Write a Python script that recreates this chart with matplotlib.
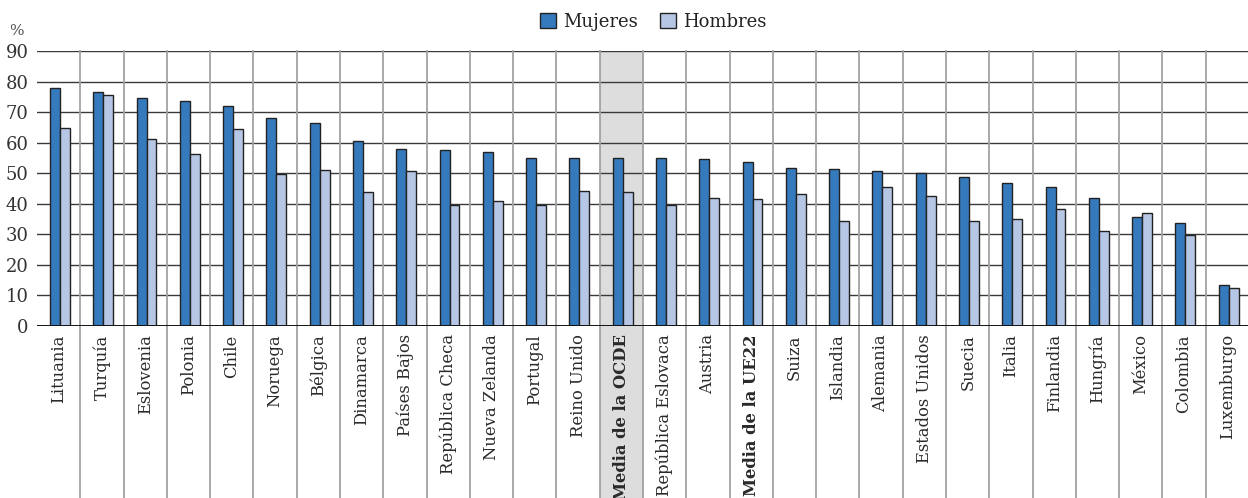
import matplotlib
matplotlib.use("Agg")
import matplotlib.pyplot as plt
import matplotlib.transforms as mtransforms
from matplotlib.patches import Rectangle, Patch
import numpy as np

plt.rcParams['font.family'] = ['DejaVu Serif']

countries = ["Lituania", "Turquía", "Eslovenia", "Polonia", "Chile", "Noruega",
             "Bélgica", "Dinamarca", "Países Bajos", "República Checa",
             "Nueva Zelanda", "Portugal", "Reino Unido", "Media de la OCDE",
             "República Eslovaca", "Austria", "Media de la UE22", "Suiza",
             "Islandia", "Alemania", "Estados Unidos", "Suecia", "Italia",
             "Finlandia", "Hungría", "México", "Colombia", "Luxemburgo"]
mujeres = [77.9, 76.6, 74.7, 73.7, 71.9, 68.1, 66.6, 60.7, 58.0, 57.5,
           56.8, 55.0, 54.9, 55.0, 55.0, 54.6, 53.6, 51.8, 51.3, 50.6,
           50.0, 48.7, 46.7, 45.4, 41.8, 35.6, 33.8, 13.3]
hombres = [64.7, 75.7, 61.2, 56.4, 64.4, 49.8, 50.9, 43.9, 50.8, 39.6,
           41.0, 39.5, 44.3, 43.7, 39.5, 42.0, 41.5, 43.3, 34.3, 45.6,
           42.7, 34.3, 34.9, 38.3, 31.1, 36.9, 29.9, 12.4]
highlight = "Media de la OCDE"
bold_labels = ["Media de la OCDE", "Media de la UE22"]

c_muj = "#357abd"
c_hom = "#b6c7e5"
edge = "#222222"

fig = plt.figure(figsize=(12.48, 4.98), dpi=100)
ax = fig.add_axes([37 / 1248, 172 / 498, 1212 / 1248, 275 / 498])

x = np.arange(len(countries))
w = 0.23
ax.bar(x - w / 2 + 0.03, mujeres, w, color=c_muj, edgecolor=edge, linewidth=1.0, zorder=3, label="Mujeres")
ax.bar(x + w / 2 + 0.03, hombres, w, color=c_hom, edgecolor=edge, linewidth=1.0, zorder=3, label="Hombres")

ax.set_xlim(-0.5, len(countries) - 0.5)
ax.set_ylim(0, 90)
ax.set_yticks(range(0, 91, 10))

# horizontal grid
for v in range(10, 91, 10):
    ax.axhline(v, color="#3a3a3a", lw=1.0, zorder=1)
ax.axhline(0, color="#111111", lw=1.4, zorder=4)

trans = mtransforms.blended_transform_factory(ax.transData, ax.transAxes)
below = -172 / 275
# highlighted column
hi = countries.index(highlight)
ax.add_patch(Rectangle((hi - 0.5, below), 1, 1 - below, transform=trans,
                       facecolor="#dddddd", edgecolor="none", zorder=0, clip_on=False))
# category separators
for k in range(len(countries) - 1):
    ax.plot([k + 0.5, k + 0.5], [below, 1], transform=trans, color="#a2a2a2",
            lw=1.3, zorder=1, clip_on=False)

for s in ax.spines.values():
    s.set_visible(False)

ax.tick_params(axis="y", length=0, pad=6, labelsize=13, labelcolor="#333333")
ax.tick_params(axis="x", length=0, pad=6)
ax.set_xticks(x)
ax.set_xticklabels(countries, rotation=90, fontsize=11.8, color="#2a2a2a", va="top")
for lab in ax.get_xticklabels():
    if lab.get_text() in bold_labels:
        lab.set_fontweight("bold")

fig.text(9 / 1248, 1 - 31 / 498, "%", fontsize=11, color="#555555", va="center")

handles = [Patch(facecolor=c_muj, edgecolor=edge, label="Mujeres"),
           Patch(facecolor=c_hom, edgecolor=edge, label="Hombres")]
fig.legend(handles=handles, loc="center", bbox_to_anchor=(653 / 1248, 1 - 22 / 498),
           ncol=2, frameon=False, fontsize=13, handlelength=0.9, handleheight=0.9,
           handletextpad=0.4, columnspacing=1.2, labelcolor="#222222")

fig.savefig("out.png", dpi=100)
